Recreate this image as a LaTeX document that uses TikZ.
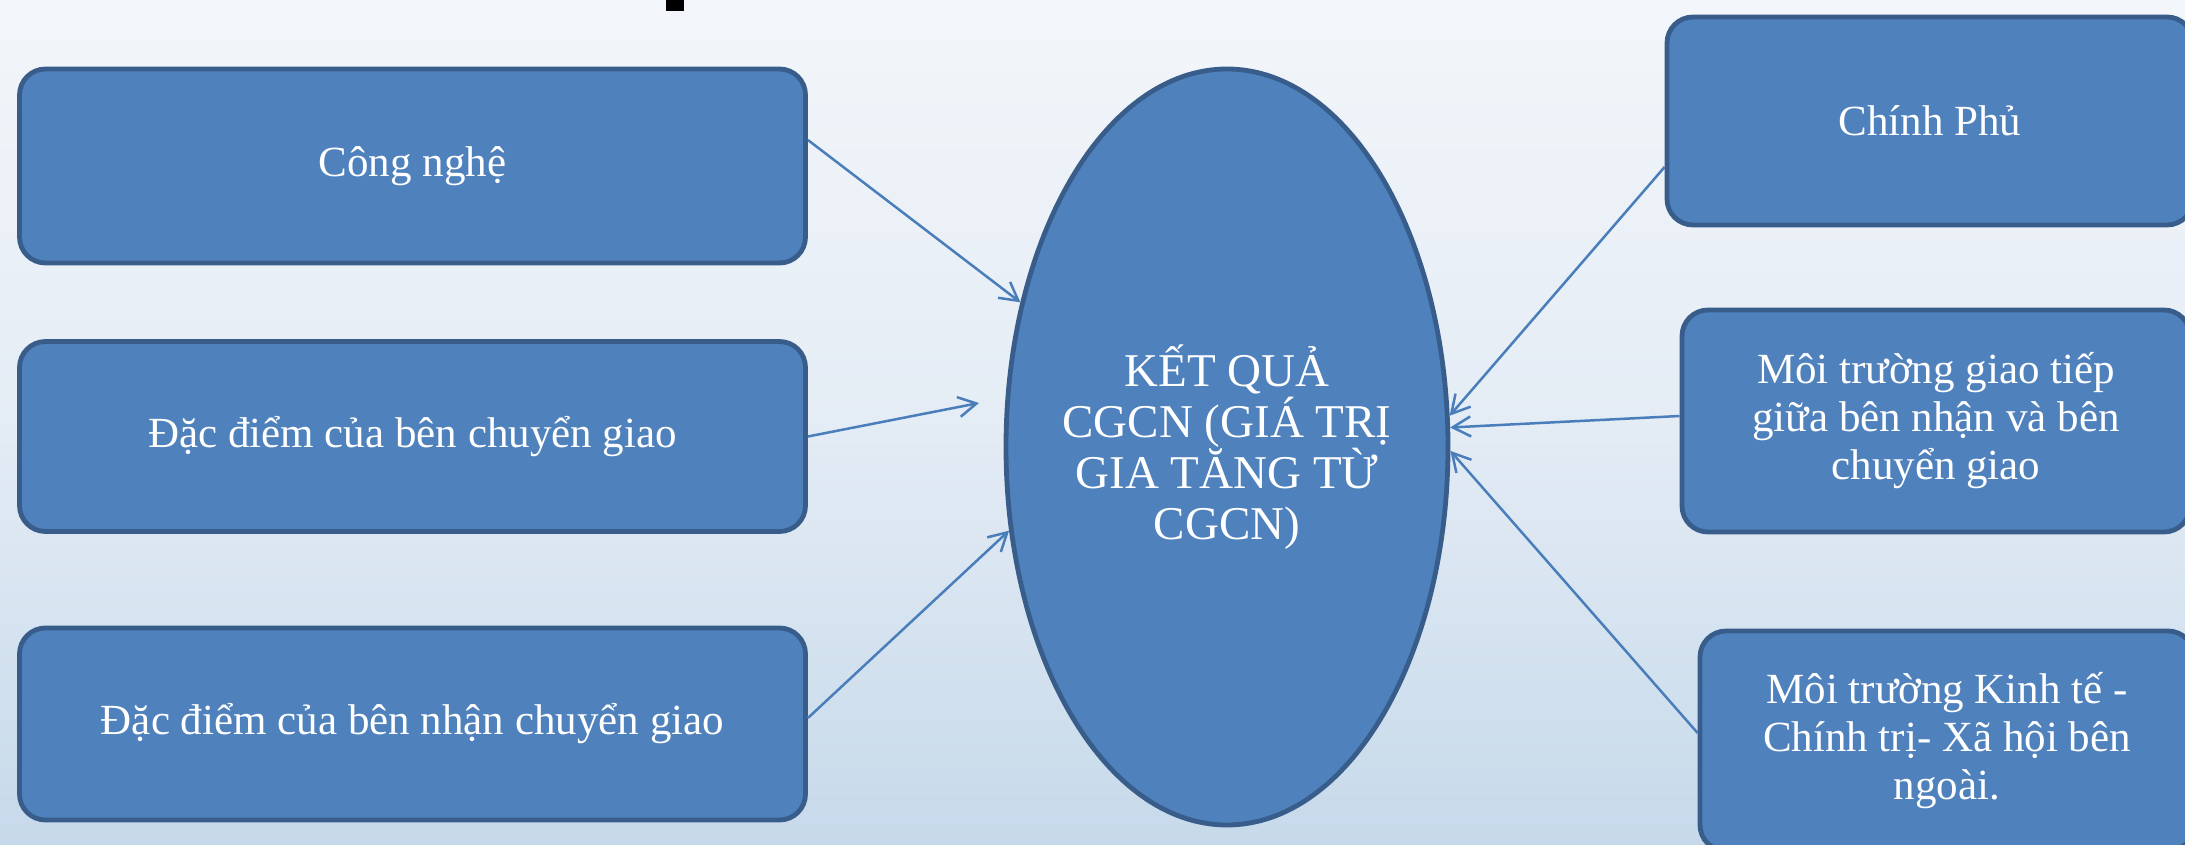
\documentclass[tikz,border=0pt]{standalone}
\usepackage{fontspec}
\setmainfont{Liberation Serif}
\usetikzlibrary{arrows.meta,shapes.geometric,calc}
\definecolor{boxfill}{HTML}{4F81BD}
\definecolor{boxline}{HTML}{385D8A}
\definecolor{arrowc}{HTML}{4A7EBB}
\definecolor{bgtop}{HTML}{F3F6FA}
\definecolor{bgmid}{HTML}{E4ECF5}
\definecolor{bgbot}{HTML}{C6D9EA}
\begin{document}
\begin{tikzpicture}[x=0.5pt,y=-0.5pt,
  box/.style={draw=boxline, line width=2.4pt, fill=boxfill, rounded corners=13pt,
    text=white, font=\fontsize{21.5}{24}\selectfont, align=center, inner sep=0pt},
  oval/.style={ellipse, draw=boxline, line width=2.4pt, fill=boxfill,
    text=white, font=\fontsize{23.5}{25.5}\selectfont, align=center,
    inner xsep=-12pt, inner ysep=0pt},
  conn/.style={draw=arrowc, line width=1.25pt,
    -{Straight Barb[length=9pt,width=10pt,line width=1.25pt]}}]
\useasboundingbox (0,0) rectangle (2185,845);
\clip (0,0) rectangle (2185,845);
\shade[top color=bgtop, bottom color=bgbot, middle color=bgmid] (0,0) rectangle (2185,845);
\fill[black] (666,0) rectangle (684,11);

\node[box, minimum width=393pt, minimum height=97pt] (c1) at (412.5,166) {Công nghệ};
\node[box, minimum width=393pt, minimum height=95pt] (c2) at (412.5,436.5) {Đặc điểm của bên chuyển giao};
\node[box, minimum width=393pt, minimum height=96pt] (c3) at (412.5,724) {Đặc điểm của bên nhận chuyển giao};

\node[oval, minimum width=221pt, minimum height=378pt] (el) at (1227,447)
  {KẾT QUẢ\\CGCN (GIÁ TRỊ\\GIA TĂNG TỪ\\CGCN)};

\node[box, minimum width=263pt, minimum height=104pt] (r1) at (1930,121) {Chính Phủ};
\node[box, minimum width=254pt, minimum height=111pt] (r2) at (1936,421)
  {Môi trường giao tiếp\\giữa bên nhận và bên\\chuyển giao};
\node[box, minimum width=247pt, minimum height=110pt] (r3) at (1947,741)
  {Môi trường Kinh tế -\\Chính trị- Xã hội bên\\ngoài.};

\coordinate (e2) at (979,403);

\draw[conn] ($(c1.east)+(0,-26)$) -- (el.145);
\draw[conn] (c2.east) -- (e2);
\draw[conn] ($(c3.east)+(0,-6)$) -- (el.201);
\draw[conn] ($(r1.west)+(0,46)$) -- (el.8);
\draw[conn] ($(r2.west)+(0,-5)$) -- (el.5);
\draw[conn] ($(r3.west)+(0,-8)$) -- (el.-1);
\end{tikzpicture}
\end{document}
